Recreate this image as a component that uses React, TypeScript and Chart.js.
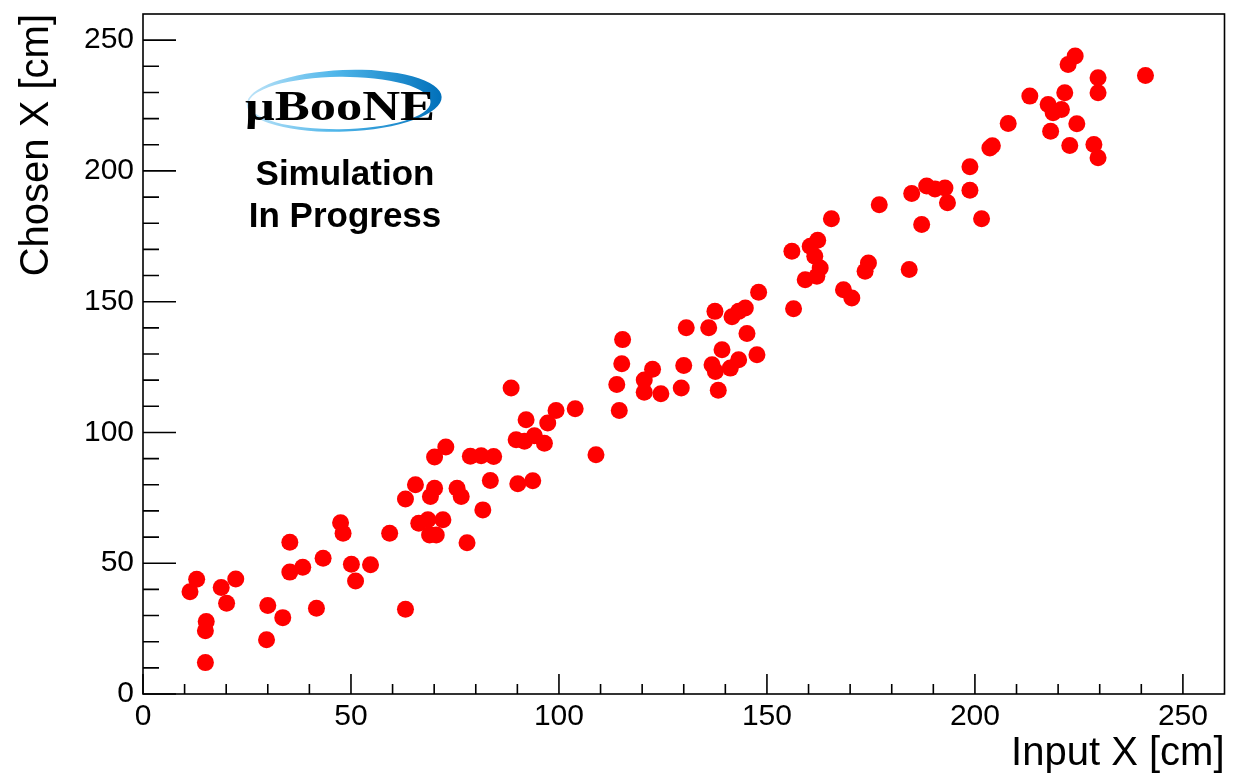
import React, { useEffect, useRef } from "react";
import { Chart, registerables } from "chart.js";

Chart.register(...registerables);

// Input X [cm]
const inputX = [
  11.3, 12.9, 15.2, 15.0, 15.0, 18.8, 20.1, 22.3, 30.0, 29.7, 33.6, 35.3, 35.3, 38.4, 43.3, 41.7,
  50.1, 51.1, 54.7, 63.1, 48.1, 47.5, 59.3,
  63.1, 65.5, 70.1, 69.1, 75.5, 76.5, 66.3, 68.5, 72.1, 68.9, 70.5, 77.9, 70.1, 72.8, 78.7, 81.3,
  84.3, 83.5, 81.7, 90.1, 93.7, 89.7, 91.7, 94.1, 96.5, 92.1, 97.3, 99.3, 103.9, 108.9, 88.5,
  115.3, 115.1, 113.9, 114.5, 120.5, 122.5, 120.5, 124.5, 130.6, 130.0, 129.4, 136.0, 137.5, 139.2,
  136.8, 137.6, 141.2, 143.2, 138.3, 141.6, 143.2, 144.8, 145.2, 147.6, 148.0,
  156.0, 162.2, 160.4, 161.5, 162.8, 162.0, 159.2, 165.5, 174.4, 173.6, 184.2, 168.4, 170.4, 156.4,
  177.0, 184.8, 188.4, 190.4, 192.8, 193.4, 187.2, 198.8, 198.8, 201.6, 203.6, 204.2, 208.0,
  213.2, 221.6, 217.6, 218.8, 220.8, 218.2, 224.5, 222.8, 228.6, 229.6, 224.1, 222.4, 229.6, 229.6, 241.0,
];

// Chosen X [cm]
const chosenX = [
  39.1, 43.9, 27.7, 24.2, 12.0, 40.7, 34.7, 44.0, 33.8, 20.7, 29.2, 58.0, 46.6, 48.5, 51.9, 32.8,
  49.6, 43.2, 49.4, 32.4, 61.5, 65.5, 61.5,
  74.6, 80.0, 78.7, 75.5, 78.7, 75.5, 65.3, 66.6, 66.6, 60.8, 60.8, 57.8, 90.6, 94.4, 90.9, 91.1,
  90.8, 81.6, 70.4, 80.4, 81.5, 97.2, 96.6, 98.7, 95.9, 104.9, 103.6, 108.4, 109.1, 91.5, 117.0,
  135.5, 126.3, 118.3, 108.4, 120.1, 124.2, 115.4, 114.8, 140.0, 125.6, 117.0, 140.0, 146.3, 131.6,
  125.9, 123.3, 124.6, 127.8, 116.1, 144.2, 146.3, 147.6, 137.8, 129.7, 153.6,
  169.3, 173.5, 171.2, 167.4, 162.9, 159.7, 158.4, 181.7, 164.8, 161.6, 162.3, 154.6, 151.4, 147.3,
  187.1, 191.4, 194.2, 193.1, 193.5, 187.8, 179.5, 201.6, 192.6, 181.7, 208.8, 209.6, 218.1,
  228.6, 229.9, 225.4, 222.2, 223.5, 215.2, 218.0, 209.7, 210.1, 205.0, 243.9, 240.7, 235.6, 229.9, 236.5,
];

const xTickValues = [0, 50, 100, 150, 200, 250];
const yTickValues = [0, 50, 100, 150, 200, 250];
const axisMax = 260;
const minorStep = 10;

const FONT = "'Liberation Sans', Arial, Helvetica, sans-serif";

const rootFramePlugin = {
  id: "rootFrame",
  afterDraw(chart: any) {
    const { ctx, chartArea, scales } = chart;
    const { left, right, top, bottom } = chartArea;
    const xs = scales.x;
    const ys = scales.y;
    ctx.save();
    ctx.strokeStyle = "#000";
    ctx.lineWidth = 1.6;
    ctx.strokeRect(left, top, right - left, bottom - top);

    ctx.beginPath();
    for (let v = 0; v < axisMax; v += minorStep) {
      const px = xs.getPixelForValue(v);
      const len = v % 50 === 0 ? 20 : 10;
      ctx.moveTo(px, bottom);
      ctx.lineTo(px, bottom - len);
      const py = ys.getPixelForValue(v);
      const ylen = v % 50 === 0 ? 33 : 16;
      ctx.moveTo(left, py);
      ctx.lineTo(left + ylen, py);
    }
    ctx.stroke();

    // MicroBooNE logo
    const grad = ctx.createLinearGradient(247, 0, 442, 0);
    grad.addColorStop(0, "#bfe4f8");
    grad.addColorStop(0.45, "#4fb6ea");
    grad.addColorStop(1, "#0070ba");
    ctx.fillStyle = grad;
    ctx.beginPath();
    ctx.ellipse(344.2, 100.8, 97.5, 30.8, -0.04, 0, Math.PI * 2);
    ctx.fill();
    ctx.fillStyle = "#fff";
    ctx.beginPath();
    ctx.ellipse(339.5, 103, 91, 26.2, -0.01, 0, Math.PI * 2);
    ctx.fill();

    ctx.fillStyle = "#000";
    ctx.textAlign = "left";
    ctx.textBaseline = "alphabetic";
    ctx.font = "bold 43px 'Liberation Serif', 'Times New Roman', serif";
    const logo = "\u03bcBooNE";
    const w = ctx.measureText(logo).width;
    ctx.save();
    ctx.translate(245, 120);
    ctx.scale(190 / w, 1);
    ctx.fillText(logo, 0, 0);
    ctx.restore();

    ctx.textAlign = "center";
    ctx.font = `bold 35px ${FONT}`;
    ctx.fillText("Simulation", 345, 185);
    ctx.fillText("In Progress", 345, 227);
    ctx.restore();
  },
};

const zeroPadding = (scale: any) => {
  scale.paddingTop = 0;
  scale.paddingBottom = 0;
  scale.paddingLeft = 0;
  scale.paddingRight = 0;
};

export default function App() {
  const canvasRef = useRef<HTMLCanvasElement | null>(null);

  useEffect(() => {
    if (!canvasRef.current) return;
    const points = inputX.map((x, i) => ({ x, y: chosenX[i] }));
    const chart = new Chart(canvasRef.current, {
      type: "scatter",
      data: {
        datasets: [
          {
            label: "Chosen vs Input",
            data: points,
            pointRadius: 8.5,
            pointHoverRadius: 8.5,
            pointBackgroundColor: "#ff0000",
            pointBorderWidth: 0,
            borderColor: "#ff0000",
          },
        ],
      },
      options: {
        animation: false,
        responsive: true,
        maintainAspectRatio: false,
        events: [],
        layout: { padding: { top: 14, right: 6, left: 0, bottom: 0 } },
        plugins: {
          legend: { display: false },
          tooltip: { enabled: false },
        },
        scales: {
          x: {
            type: "linear",
            min: 0,
            max: axisMax,
            afterBuildTicks: (axis: any) => {
              axis.ticks = xTickValues.map((v) => ({ value: v }));
            },
            afterFit: (scale: any) => {
              scale.height = 84;
              zeroPadding(scale);
            },
            grid: { display: false, drawTicks: false },
            border: { display: false },
            ticks: {
              color: "#000",
              font: { family: FONT, size: 30 },
              padding: 5,
              maxRotation: 0,
              autoSkip: false,
            },
            title: {
              display: true,
              text: "Input X [cm]",
              align: "end",
              color: "#000",
              font: { family: FONT, size: 40 },
              padding: { top: 0, bottom: 0 },
            },
          },
          y: {
            type: "linear",
            min: 0,
            max: axisMax,
            afterBuildTicks: (axis: any) => {
              axis.ticks = yTickValues.map((v) => ({ value: v }));
            },
            afterFit: (scale: any) => {
              scale.width = 143;
              zeroPadding(scale);
            },
            grid: { display: false, drawTicks: false },
            border: { display: false },
            ticks: {
              color: "#000",
              font: { family: FONT, size: 30 },
              padding: 9,
              autoSkip: false,
            },
            title: {
              display: true,
              text: "Chosen X [cm]",
              align: "end",
              color: "#000",
              font: { family: FONT, size: 40 },
              padding: { top: 13, bottom: 0 },
            },
          },
        },
      },
      plugins: [rootFramePlugin],
    } as any);
    return () => chart.destroy();
  }, []);

  return (
    <div style={{ position: "fixed", left: 0, top: 0, width: 1233, height: 778, background: "#fff" }}>
      <canvas ref={canvasRef} />
    </div>
  );
}
